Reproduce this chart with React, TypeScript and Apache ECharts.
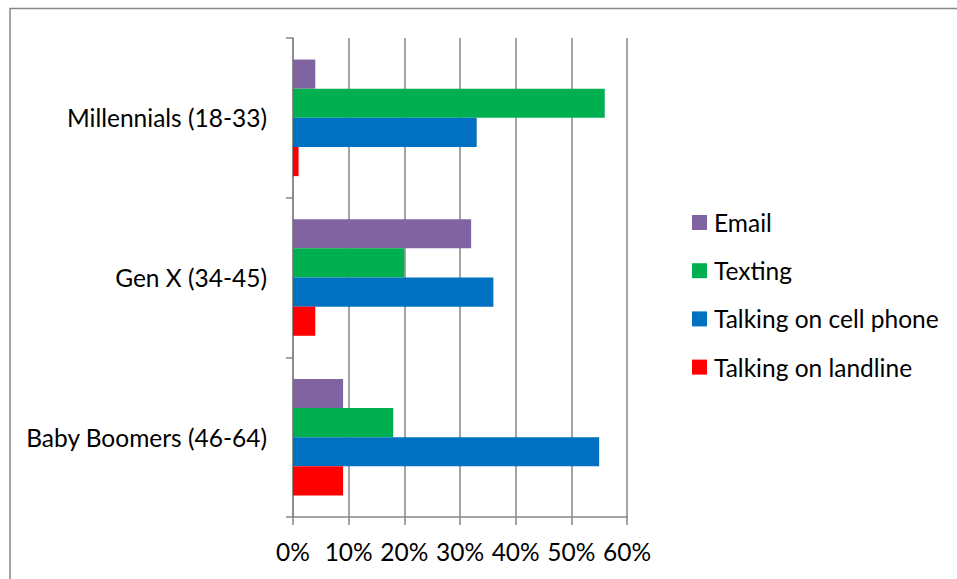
import React, { useEffect, useRef } from "react";
import * as echarts from "echarts";

const categories = ["Baby Boomers (46-64)", "Gen X (34-45)", "Millennials (18-33)"];
const seriesNames = ["Email", "Texting", "Talking on cell phone", "Talking on landline"];
const emailValues = [9, 32, 4];
const textingValues = [18, 20, 56];
const cellValues = [55, 36, 33];
const landlineValues = [9, 4, 1];
const xTicks = [0, 10, 20, 30, 40, 50, 60];

const colors: Record<string, string> = {
  Email: "#8064A2",
  Texting: "#00B050",
  "Talking on cell phone": "#0070C0",
  "Talking on landline": "#FF0000",
};

const FONT = "Lato";
const GRAY = "#868686";

export default function App() {
  const ref = useRef<HTMLDivElement>(null);
  useEffect(() => {
    if (!ref.current) return;
    const chart = echarts.init(ref.current, null, { renderer: "svg" });
    const mk = (name: string, data: number[]) => ({
      name,
      type: "bar",
      data,
      barGap: "0%",
      barCategoryGap: "27%",
      itemStyle: { color: colors[name] },
    });
    chart.setOption({
      animation: false,
      backgroundColor: "#fff",
      textStyle: { fontFamily: FONT },
      graphic: [
        {
          type: "rect",
          shape: { x: 10, y: 8.5, width: 1200, height: 1200 },
          style: { fill: "none", stroke: GRAY, lineWidth: 1.5 },
          silent: true,
          z: -1,
        },
      ],
      grid: { left: 293, right: 330, top: 38, bottom: 62, containLabel: false },
      legend: {
        orient: "vertical",
        left: 687,
        top: 205,
        itemWidth: 15,
        itemHeight: 15,
        itemGap: 23.2,
        icon: "rect",
        data: seriesNames,
        textStyle: { fontFamily: FONT, fontSize: 24.5, lineHeight: 24, color: "#000", padding: [0, 0, 0, 2] },
      },
      xAxis: {
        type: "value",
        min: xTicks[0],
        max: xTicks[xTicks.length - 1],
        interval: 10,
        axisLine: { show: true, lineStyle: { color: GRAY, width: 1.5 } },
        axisTick: { show: true, length: 8, lineStyle: { color: GRAY, width: 1.5 } },
        splitLine: { show: true, lineStyle: { color: GRAY, width: 1.5 } },
        axisLabel: {
          formatter: "{value}%",
          fontFamily: FONT,
          fontSize: 24.5,
          color: "#000",
          margin: 22,
        },
      },
      yAxis: {
        type: "category",
        data: categories,
        axisLine: { show: true, lineStyle: { color: GRAY, width: 1.5 } },
        axisTick: { show: true, length: 7, lineStyle: { color: GRAY, width: 1.5 } },
        axisLabel: { fontFamily: FONT, fontSize: 24.5, color: "#000", margin: 26 },
      },
      series: [
        mk("Email", emailValues),
        mk("Texting", textingValues),
        mk("Talking on cell phone", cellValues),
        mk("Talking on landline", landlineValues),
      ],
    });
    return () => chart.dispose();
  }, []);
  return (
    <div style={{ position: "fixed", left: 0, top: 0, width: 957, height: 579 }}>
      <div ref={ref} style={{ width: 957, height: 579 }} />
    </div>
  );
}
